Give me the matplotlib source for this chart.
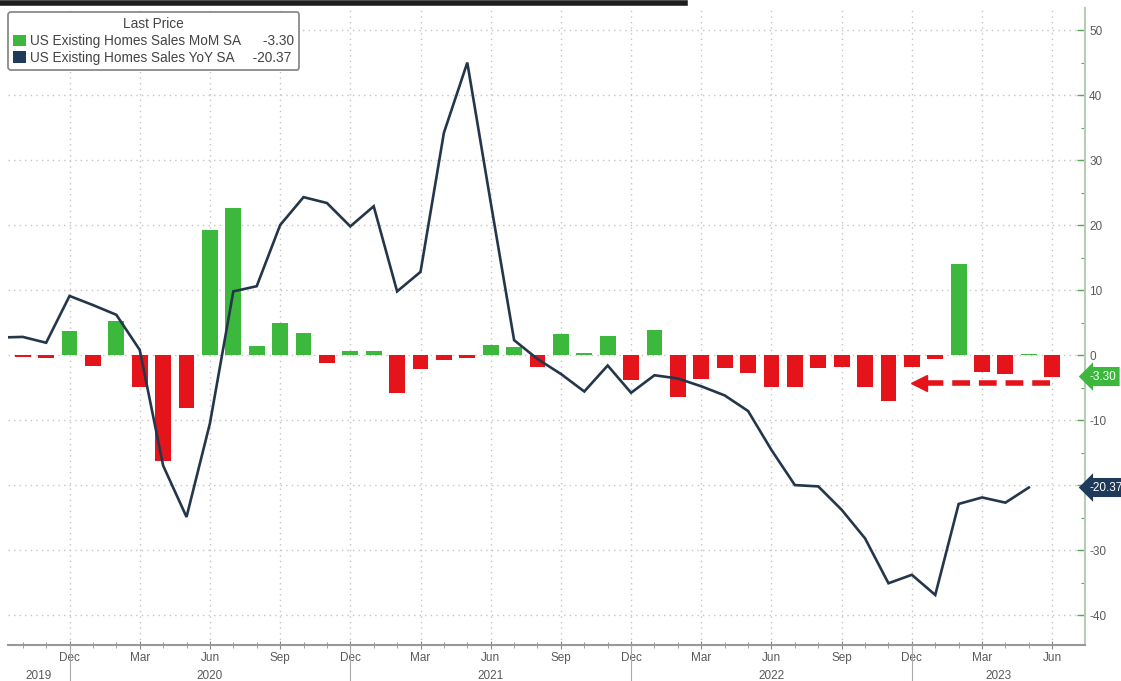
import numpy as np
import pandas as pd
import matplotlib
matplotlib.use('Agg')
import matplotlib.pyplot as plt
import matplotlib.transforms as mtransforms
from matplotlib.patches import Patch
from matplotlib.lines import Line2D

plt.rcParams['font.family'] = ['Liberation Sans', 'DejaVu Sans']

# monthly axis, Sep 2019 .. Jun 2023
months = pd.period_range('2019-09', '2023-06', freq='M')

# US existing home sales, MoM % (bars)
mom = [-0.3, -0.3, -0.4, 3.7,
       -1.7, 5.2, -4.9, -16.3, -8.2, 19.2, 22.6, 1.4, 5.0, 3.4, -1.2, 0.7,
       0.7, -5.8, -2.2, -0.8, -0.5, 1.5, 1.3, -1.8, 3.2, 0.3, 3.0, -3.8,
       3.9, -6.4, -3.7, -2.0, -2.8, -4.9, -4.9, -2.0, -1.8, -4.9, -7.1, -1.9,
       -0.6, 14.0, -2.6, -2.9, 0.2, -3.3]

# US existing home sales, YoY % (line), ends May 2023
yoy = [2.7, 2.8, 1.9, 9.1,
       7.7, 6.2, 0.8, -17.0, -24.9, -10.5, 9.8, 10.6, 20.0, 24.3, 23.4, 19.8,
       22.9, 9.8, 12.8, 34.2, 45.0, 23.5, 2.3, -0.6, -2.9, -5.6, -1.6, -5.8,
       -3.1, -3.6, -4.8, -6.2, -8.6, -14.6, -20.0, -20.2, -23.8, -28.2, -35.1, -33.8,
       -36.9, -22.9, -21.9, -22.7, -20.37]

last_mom = -3.30
last_yoy = -20.37

GREEN = '#3cb83c'
RED = '#e5141a'
NAVY = '#24364a'
GRID = '#c4c4c4'
TXT = '#5a5a5a'

x = np.arange(len(months))

fig = plt.figure(figsize=(11.21, 6.81), dpi=100)
ax = fig.add_axes([8 / 1121, 36 / 681, 1077 / 1121, 637 / 681])

# bars
bar_colors = [GREEN if v >= 0 else RED for v in mom]
ax.bar(x, mom, width=0.68, color=bar_colors, zorder=2)

# yoy line
ax.plot(x[:len(yoy)], yoy, color=NAVY, lw=1.9, zorder=3, solid_joinstyle='miter')

# red dashed arrow pointing back at last MoM print
ax.plot([44.9, 39.6], [-4.3, -4.3], color=RED, lw=4, ls=(0, (3.2, 1.6)), zorder=4)
ax.plot([39.3], [-4.3], marker='<', ms=11, color=RED, mec=RED, zorder=4)

# y axis on the right
ax.yaxis.tick_right()
yt = list(range(-40, 51, 10))
ax.set_yticks(yt)
# the -20 label sits under the YoY tag, as in the original
ax.set_yticklabels(['' if v == -20 else str(v) for v in yt])
ax.set_yticks(range(-45, 51, 5), minor=True)
ax.tick_params(axis='y', which='both', direction='in', colors='#5aa85a',
               labelcolor=TXT, labelsize=8.5, pad=3)
ax.tick_params(axis='y', which='major', length=6, width=1)
ax.tick_params(axis='y', which='minor', length=3, width=0.8)

# x axis: quarter labels, monthly minor ticks
major_idx = [i for i, m in enumerate(months) if m.month in (3, 6, 12) or (m.month == 9 and m.year > 2019)]
ax.set_xticks(major_idx)
ax.set_xticklabels([months[i].strftime('%b') for i in major_idx])
ax.set_xticks(x, minor=True)
ax.tick_params(axis='x', which='both', direction='inout', colors='#888888',
               labelcolor=TXT, labelsize=8.5, pad=2)
ax.tick_params(axis='x', which='major', length=6)
ax.tick_params(axis='x', which='minor', length=4)

# limits after ticks (set_xticks widens the view)
ax.set_xlim(0.37, 46.4)
ax.set_ylim(-44.6, 53.4)

ax.grid(True, which='major', color=GRID, lw=1, ls=(0, (1, 3)), zorder=0)

for side in ('left', 'top'):
    ax.spines[side].set_visible(False)
ax.spines['right'].set_color('#b5ccb5')
ax.spines['right'].set_linewidth(1.5)
ax.spines['bottom'].set_color('#999999')
ax.spines['bottom'].set_linewidth(1.5)

# year separators and year labels
trans = mtransforms.blended_transform_factory(ax.transData, ax.transAxes)
seps = [i for i, m in enumerate(months) if m.month == 12]
for s in seps:
    ax.add_line(Line2D([s, s], [0, -0.058], transform=trans, color='#aaaaaa',
                       lw=0.8, clip_on=False))
bounds = [0.37] + seps + [46.4]
years = sorted(set(m.year for m in months))
for k, yr in enumerate(years):
    cx = (bounds[k] + bounds[k + 1]) / 2
    ax.text(cx, -0.048, str(yr), transform=trans, ha='center', va='center',
            fontsize=8.5, color=TXT)

# last value tags on the right axis
ytrans = mtransforms.blended_transform_factory(ax.transAxes, ax.transData)
ax.text(1.004, last_mom, f'{last_mom:.2f}', transform=ytrans, ha='left', va='center',
        fontsize=8.5, color='white', clip_on=False, zorder=10,
        bbox=dict(boxstyle='larrow,pad=0.3', fc=GREEN, ec='none'))
ax.text(1.004, last_yoy, f'{last_yoy:.2f}', transform=ytrans, ha='left', va='center',
        fontsize=8.5, color='white', clip_on=False, zorder=10,
        bbox=dict(boxstyle='larrow,pad=0.3', fc='#1f3b5c', ec='none'))

# legend
handles = [Patch(facecolor=GREEN, edgecolor='none'), Patch(facecolor='#1f3b5c', edgecolor='none')]
labels = [f'US Existing Homes Sales MoM SA      {last_mom:.2f}',
          f'US Existing Homes Sales YoY SA     {last_yoy:.2f}']
leg = ax.legend(handles, labels, title='Last Price', loc='upper left',
                bbox_to_anchor=(0.0, 0.994), borderaxespad=0, fontsize=9.8,
                title_fontsize=9.8, handlelength=0.9, handleheight=0.9,
                handletextpad=0.3, labelspacing=0.2, borderpad=0.4,
                fancybox=True, framealpha=1, edgecolor='#8a8a8a')
leg.get_frame().set_linewidth(1.3)
for t in leg.get_texts():
    t.set_color('#444444')
leg.get_title().set_color('#444444')

# cut-off title remnant along the top edge
fig.add_artist(Line2D([0, 685 / 1121], [0.995, 0.995], transform=fig.transFigure,
                      color='#1e1e1e', lw=4))

fig.savefig('out.png', dpi=100)
